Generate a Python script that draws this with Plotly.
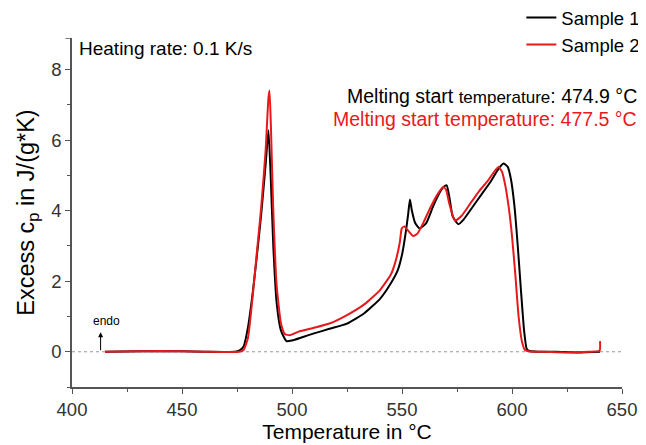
import plotly.graph_objects as go

# Sample 1 (black)
s1_temp = [415, 440, 460, 474, 476, 478, 480, 482, 484, 486, 488, 489.3, 490.3, 491.5, 493, 495, 497.5,
           500, 505, 510, 517, 525, 533, 540, 545, 548, 550, 551.5, 552.8, 553.6, 554.5, 556, 558, 561,
           564, 567, 569, 570.3, 571.5, 573, 575.6, 578, 582, 586, 590, 594, 596.1, 598, 599.5, 601,
           602.5, 604, 605.5, 606.7, 608, 612, 620, 630, 640]
s1_cp = [0, 0.02, 0, 0, 0.03, 0.15, 0.7, 1.6, 2.7, 3.9, 5.3, 6.28, 5.0, 3.0, 1.4, 0.6, 0.3,
         0.32, 0.42, 0.52, 0.65, 0.8, 1.1, 1.5, 1.95, 2.3, 2.75, 3.3, 3.9, 4.32, 4.0, 3.65, 3.5, 3.65,
         4.1, 4.5, 4.68, 4.72, 4.4, 3.85, 3.62, 3.75, 4.1, 4.45, 4.8, 5.2, 5.34, 5.25, 4.9, 4.2,
         3.1, 1.8, 0.6, 0.08, 0.02, 0, 0, -0.02, 0]

# Sample 2 (red)
s2_temp = [415, 440, 460, 476, 478, 480, 482, 484, 486, 488, 489.3, 489.8, 490.5, 491.5, 493, 495, 496.8,
           499, 503, 510, 517, 525, 533, 540, 545, 547, 549, 549.9, 551, 553, 555.1, 557, 560, 563,
           566, 568.8, 570, 571.5, 574.1, 577, 581, 585, 589, 593.8, 595.5, 597, 598.5, 599.9, 601.5,
           603, 604.5, 605.9, 608, 615, 625, 635, 639.8, 640]
s2_cp = [0, 0.02, 0, 0, 0.05, 0.4, 1.5, 2.8, 4.1, 5.7, 7.2, 7.41, 6.2, 4.0, 1.9, 0.8, 0.5,
         0.47, 0.57, 0.68, 0.8, 1.04, 1.35, 1.75, 2.2, 2.55, 3.1, 3.5, 3.55, 3.42, 3.28, 3.35, 3.7, 4.1,
         4.45, 4.67, 4.6, 4.2, 3.72, 3.85, 4.2, 4.55, 4.85, 5.24, 5.1, 4.7, 4.1, 3.35, 2.2,
         1.0, 0.3, 0.05, 0.01, 0, -0.02, 0, 0.03, 0.3]

series_names = ["Sample 1", "Sample 2"]
x_ticks = [400, 450, 500, 550, 600, 650]
y_ticks = [0, 2, 4, 6, 8]

FONT = "Liberation Sans, Arial, sans-serif"

fig = go.Figure()
fig.add_trace(go.Scatter(x=s1_temp, y=s1_cp, mode="lines", name=series_names[0],
                         line=dict(color="#000000", width=2, shape="spline", smoothing=0.5)))
fig.add_trace(go.Scatter(x=s2_temp, y=s2_cp, mode="lines", name=series_names[1],
                         line=dict(color="#e8191c", width=2, shape="spline", smoothing=0.5)))

# zero baseline (dotted)
fig.add_shape(type="line", x0=400, x1=650, y0=0, y1=0, xref="x", yref="y",
              line=dict(color="#999999", width=1.2, dash="dot"), layer="below")
# top end tick of y axis
fig.add_shape(type="line", x0=-0.012, x1=0, y0=8.9, y1=8.9, xref="paper", yref="y",
              line=dict(color="#555555", width=1.5))

# endo arrow (pointing up)
fig.add_annotation(x=413, y=0.55, ax=413, ay=0.0, xref="x", yref="y", axref="x", ayref="y",
                   showarrow=True, arrowhead=2, arrowsize=1, arrowwidth=1, arrowcolor="#000",
                   text="")
fig.add_annotation(x=415.5, y=0.88, xref="x", yref="y", text="endo", showarrow=False,
                   font=dict(size=12, color="#000", family=FONT))

fig.add_annotation(x=0.009, y=8.6, xref="paper", yref="y", xanchor="left", showarrow=False,
                   text="Heating rate: 0.1 K/s", font=dict(size=19, color="#000", family=FONT))
fig.add_annotation(x=1.03, y=7.25, xref="paper", yref="y", xanchor="right", showarrow=False,
                   text="Melting start <span style='font-size:17px'>temperature</span>: 474.9 °C",
                   font=dict(size=19.5, color="#000", family=FONT))
fig.add_annotation(x=1.03, y=6.6, xref="paper", yref="y", xanchor="right", showarrow=False,
                   text="Melting start temperature: 477.5 °C",
                   font=dict(size=19.5, color="#e8191c", family=FONT))

axis_common = dict(showline=True, linecolor="#555555", linewidth=1.5, ticks="outside",
                   ticklen=5, tickcolor="#555555", tickfont=dict(size=18.5, color="#333", family=FONT),
                   showgrid=False, zeroline=False, mirror=False, automargin=False)

fig.update_xaxes(range=[400, 650], tickvals=x_ticks, title=dict(text="Temperature in °C",
                 font=dict(size=21, color="#000", family=FONT), standoff=2),
                 minor=dict(ticks="outside", dtick=25, ticklen=3, tickcolor="#555555"),
                 **axis_common)
fig.update_yaxes(range=[-1, 8.9], tickvals=y_ticks, title=dict(text="Excess c<sub>p</sub> in J/(g*K)",
                 font=dict(size=23.5, color="#000", family=FONT), standoff=10),
                 minor=dict(ticks="outside", dtick=1, ticklen=3, tickcolor="#555555"),
                 **axis_common)

fig.update_layout(
    width=638, height=437,
    margin=dict(l=64, r=24, t=30, b=58, autoexpand=False),
    plot_bgcolor="white", paper_bgcolor="white",
    font=dict(family=FONT, color="#000"),
    showlegend=True,
    legend=dict(x=0.817, y=1.112, xanchor="left", yanchor="top",
                bgcolor="rgba(0,0,0,0)",
                font=dict(size=18.5, color="#000", family=FONT), tracegroupgap=0,
                itemwidth=30),
)

fig.write_html("out.html")
